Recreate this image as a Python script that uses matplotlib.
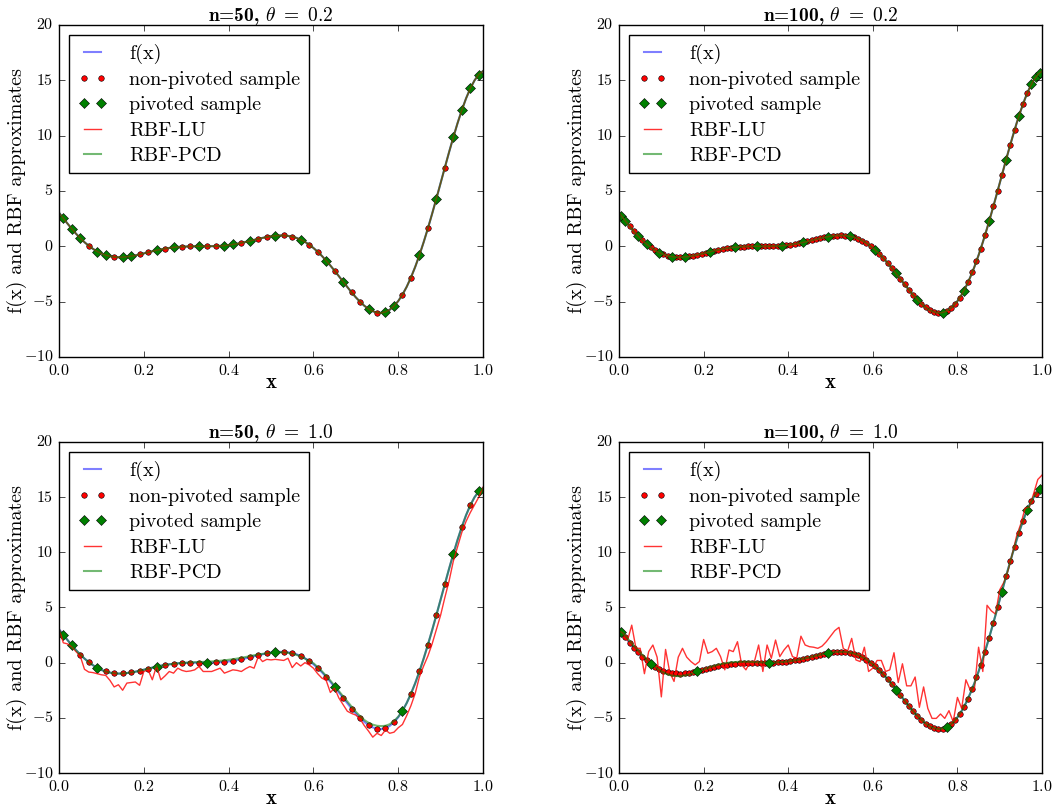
import numpy as np
import matplotlib
matplotlib.use('Agg')
import matplotlib.pyplot as plt

plt.style.use('classic')
plt.rcParams['font.family'] = 'serif'
plt.rcParams['font.serif'] = ['cmr10']
plt.rcParams['mathtext.fontset'] = 'cm'
plt.rcParams['axes.formatter.use_mathtext'] = True
plt.rcParams['figure.facecolor'] = 'white'
plt.rcParams['savefig.facecolor'] = 'white'

# evaluation grid for f(x) and the two RBF curves
X_GRID = [0.00, 0.01, 0.02, 0.03, 0.04, 0.05, 0.06, 0.07, 0.08, 0.09,
          0.10, 0.11, 0.12, 0.13, 0.14, 0.15, 0.16, 0.17, 0.18, 0.19,
          0.20, 0.21, 0.22, 0.23, 0.24, 0.25, 0.26, 0.27, 0.28, 0.29,
          0.30, 0.31, 0.32, 0.33, 0.34, 0.35, 0.36, 0.37, 0.38, 0.39,
          0.40, 0.41, 0.42, 0.43, 0.44, 0.45, 0.46, 0.47, 0.48, 0.49,
          0.50, 0.51, 0.52, 0.53, 0.54, 0.55, 0.56, 0.57, 0.58, 0.59,
          0.60, 0.61, 0.62, 0.63, 0.64, 0.65, 0.66, 0.67, 0.68, 0.69,
          0.70, 0.71, 0.72, 0.73, 0.74, 0.75, 0.76, 0.77, 0.78, 0.79,
          0.80, 0.81, 0.82, 0.83, 0.84, 0.85, 0.86, 0.87, 0.88, 0.89,
          0.90, 0.91, 0.92, 0.93, 0.94, 0.95, 0.96, 0.97, 0.98, 0.99, 1.00]

F_GRID = [3.03, 2.53, 2.05, 1.58, 1.14, 0.74, 0.37, 0.05, -0.23, -0.47,
          -0.66, -0.80, -0.90, -0.96, -0.99, -0.98, -0.94, -0.89, -0.82, -0.73,
          -0.64, -0.55, -0.45, -0.36, -0.28, -0.21, -0.15, -0.10, -0.06, -0.03,
          -0.02, -0.01, 0.00, 0.00, 0.00, 0.00, 0.01, 0.02, 0.04, 0.07,
          0.11, 0.17, 0.23, 0.31, 0.39, 0.48, 0.58, 0.67, 0.76, 0.84,
          0.91, 0.96, 0.98, 0.98, 0.94, 0.87, 0.76, 0.60, 0.40, 0.15,
          -0.15, -0.49, -0.87, -1.29, -1.74, -2.21, -2.70, -3.19, -3.68, -4.16,
          -4.61, -5.01, -5.37, -5.66, -5.87, -5.99, -6.02, -5.93, -5.73, -5.40,
          -4.95, -4.37, -3.66, -2.82, -1.87, -0.80, 0.37, 1.62, 2.94, 4.31,
          5.71, 7.12, 8.51, 9.85, 11.13, 12.30, 13.36, 14.26, 14.99, 15.52, 15.83]

# n=50 samples
X_S50 = [0.01, 0.03, 0.05, 0.07, 0.09, 0.11, 0.13, 0.15, 0.17, 0.19,
         0.21, 0.23, 0.25, 0.27, 0.29, 0.31, 0.33, 0.35, 0.37, 0.39,
         0.41, 0.43, 0.45, 0.47, 0.49, 0.51, 0.53, 0.55, 0.57, 0.59,
         0.61, 0.63, 0.65, 0.67, 0.69, 0.71, 0.73, 0.75, 0.77, 0.79,
         0.81, 0.83, 0.85, 0.87, 0.89, 0.91, 0.93, 0.95, 0.97, 0.99]
Y_S50 = [2.53, 1.58, 0.74, 0.05, -0.47, -0.80, -0.96, -0.98, -0.89, -0.73,
         -0.55, -0.36, -0.21, -0.10, -0.03, -0.01, 0.00, 0.00, 0.02, 0.07,
         0.17, 0.31, 0.48, 0.67, 0.84, 0.96, 0.98, 0.87, 0.60, 0.15,
         -0.49, -1.29, -2.21, -3.19, -4.16, -5.01, -5.66, -5.99, -5.93, -5.40,
         -4.37, -2.82, -0.80, 1.62, 4.31, 7.12, 9.85, 12.30, 14.26, 15.52]

# n=100 samples
X_S100 = [0.005, 0.015, 0.025, 0.035, 0.045, 0.055, 0.065, 0.075, 0.085, 0.095,
          0.105, 0.115, 0.125, 0.135, 0.145, 0.155, 0.165, 0.175, 0.185, 0.195,
          0.205, 0.215, 0.225, 0.235, 0.245, 0.255, 0.265, 0.275, 0.285, 0.295,
          0.305, 0.315, 0.325, 0.335, 0.345, 0.355, 0.365, 0.375, 0.385, 0.395,
          0.405, 0.415, 0.425, 0.435, 0.445, 0.455, 0.465, 0.475, 0.485, 0.495,
          0.505, 0.515, 0.525, 0.535, 0.545, 0.555, 0.565, 0.575, 0.585, 0.595,
          0.605, 0.615, 0.625, 0.635, 0.645, 0.655, 0.665, 0.675, 0.685, 0.695,
          0.705, 0.715, 0.725, 0.735, 0.745, 0.755, 0.765, 0.775, 0.785, 0.795,
          0.805, 0.815, 0.825, 0.835, 0.845, 0.855, 0.865, 0.875, 0.885, 0.895,
          0.905, 0.915, 0.925, 0.935, 0.945, 0.955, 0.965, 0.975, 0.985, 0.995]
Y_S100 = [2.78, 2.29, 1.81, 1.36, 0.94, 0.55, 0.20, -0.10, -0.36, -0.57,
          -0.73, -0.86, -0.94, -0.98, -0.99, -0.96, -0.92, -0.85, -0.78, -0.69,
          -0.59, -0.50, -0.41, -0.32, -0.25, -0.18, -0.12, -0.08, -0.05, -0.02,
          -0.01, 0.00, 0.00, 0.00, 0.00, 0.00, 0.01, 0.03, 0.06, 0.09,
          0.14, 0.20, 0.27, 0.35, 0.44, 0.53, 0.62, 0.72, 0.80, 0.88,
          0.94, 0.97, 0.99, 0.97, 0.91, 0.82, 0.68, 0.50, 0.28, 0.00,
          -0.31, -0.67, -1.07, -1.51, -1.97, -2.45, -2.94, -3.44, -3.92, -4.39,
          -4.82, -5.20, -5.52, -5.78, -5.94, -6.02, -5.99, -5.84, -5.58, -5.19,
          -4.67, -4.03, -3.25, -2.36, -1.34, -0.23, 0.98, 2.27, 3.62, 5.01,
          6.42, 7.82, 9.19, 10.50, 11.73, 12.85, 13.83, 14.65, 15.28, 15.70]

# which samples were picked by the pivoting (indices into the sample lists)
PIV_50_02 = [0, 1, 2, 4, 5, 7, 8, 11, 13, 16, 19, 20, 22, 25, 28, 31, 33, 36, 38, 39,
             42, 44, 46, 47, 48, 49]
PIV_100_02 = [0, 1, 4, 6, 9, 12, 15, 21, 27, 32, 38, 43, 49, 54, 60, 65, 70, 76, 81, 87,
              91, 94, 97, 98, 99]
PIV_50_10 = [0, 1, 4, 11, 17, 25, 32, 40, 46, 49]
PIV_100_10 = [0, 7, 18, 35, 49, 65, 77, 90, 96, 99]

# theta=0.2: both RBF fits lie on f(x)
LU_50_02 = F_GRID
PCD_50_02 = F_GRID
LU_100_02 = F_GRID
PCD_100_02 = F_GRID

# theta=1.0, n=50
LU_50_10 = [3.1, 1.8, 1.7, 1.45, 1.0, 0.6, -0.6, -0.85, -0.9, -1.0,
            -1.1, -1.15, -1.6, -2.2, -2.0, -2.5, -1.85, -1.8, -1.75, -2.05,
            -0.8, -0.65, -1.55, -0.3, -1.55, -1.2, -0.8, -0.95, -0.5, -0.7,
            -0.8, -0.75, -0.65, -0.35, -0.8, -0.8, -0.8, -0.65, -0.5, -0.95,
            -0.8, -0.65, -0.7, -0.8, -0.55, -0.35, -0.5, 0.55, 0.1, 0.3,
            0.25, 0.3, 0.25, 0.2, 0.4, -0.45, 0.0, -0.3, 0.0, -0.2,
            -0.5, -1.0, -1.4, -1.6, -2.7, -2.3, -3.2, -3.8, -4.4, -4.6,
            -4.75, -5.1, -5.7, -6.2, -6.75, -6.4, -6.6, -6.1, -6.4, -6.3,
            -5.9, -5.6, -4.8, -3.9, -2.8, -1.3, -0.3, 0.6, 1.7, 3.0,
            4.3, 5.9, 7.4, 9.2, 10.5, 11.8, 12.8, 13.6, 14.3, 15.0, 15.9]
PCD_50_10 = [2.95, 2.53, 2.05, 1.58, 1.14, 0.74, 0.37, 0.05, -0.23, -0.47,
             -0.66, -0.80, -0.90, -0.96, -0.99, -0.98, -0.94, -0.89, -0.82, -0.73,
             -0.64, -0.55, -0.45, -0.36, -0.28, -0.21, -0.15, -0.10, -0.06, -0.03,
             0.00, 0.02, 0.04, 0.05, 0.07, 0.09, 0.11, 0.14, 0.17, 0.21,
             0.26, 0.31, 0.37, 0.44, 0.51, 0.59, 0.67, 0.74, 0.80, 0.85,
             0.88, 0.92, 0.94, 0.93, 0.89, 0.82, 0.71, 0.56, 0.37, 0.14,
             -0.05, -0.40, -0.78, -1.20, -1.63, -2.10, -2.58, -3.05, -3.52, -3.98,
             -4.45, -4.85, -5.20, -5.45, -5.62, -5.72, -5.75, -5.72, -5.58, -5.30,
             -4.90, -4.37, -3.66, -2.82, -1.87, -0.80, 0.37, 1.62, 2.94, 4.31,
             5.71, 7.12, 8.51, 9.85, 11.13, 12.30, 13.36, 14.26, 14.99, 15.52, 15.80]

# theta=1.0, n=100
LU_100_10 = [2.9, 2.65, 2.0, 3.4, 1.3, 1.3, -1.0, 1.0, 1.6, 0.5,
             -3.1, 1.2, -0.9, -1.7, 0.5, 1.3, 0.5, 0.1, -0.2, 0.1,
             2.1, 0.85, 1.0, 1.3, 0.55, -0.65, 1.15, 1.0, 1.9, -0.2,
             -0.65, 0.1, 0.1, 1.6, -0.8, 1.6, 0.4, 2.05, 0.55, 1.15,
             1.6, 0.55, 0.4, 2.4, 1.6, 1.45, 1.4, 1.3, 1.5, 1.9,
             2.4, 2.9, 3.2, 1.3, 1.0, 2.2, 0.25, 0.1, 1.4, -0.8,
             -0.5, 0.2, 0.2, -0.8, -0.65, 0.9, -1.8, -0.1, -2.1, -2.1,
             -1.3, -4.05, -2.2, -4.15, -5.05, -5.05, -4.65, -5.05, -4.35, -5.35,
             -3.15, -4.15, -1.55, -2.45, -2.45, 1.4, -0.8, 5.2, 4.7, 4.4,
             6.6, 7.3, 8.4, 9.9, 11.5, 12.6, 14.0, 14.1, 15.3, 16.6, 17.0]
PCD_100_10 = [2.95, 2.6, 2.2, 1.75, 1.3, 0.9, 0.5, 0.12, -0.22, -0.52,
              -0.78, -0.98, -1.12, -1.20, -1.22, -1.19, -1.12, -1.02, -0.90, -0.76,
              -0.62, -0.48, -0.35, -0.24, -0.14, -0.06, 0.00, 0.04, 0.07, 0.08,
              0.08, 0.07, 0.05, 0.03, 0.02, 0.01, 0.01, 0.02, 0.04, 0.07,
              0.11, 0.17, 0.23, 0.31, 0.39, 0.48, 0.58, 0.67, 0.76, 0.84,
              0.91, 0.96, 0.98, 0.98, 0.94, 0.87, 0.76, 0.60, 0.40, 0.15,
              -0.15, -0.49, -0.87, -1.29, -1.74, -2.21, -2.70, -3.19, -3.68, -4.16,
              -4.61, -5.01, -5.37, -5.66, -5.87, -5.99, -6.02, -5.93, -5.73, -5.40,
              -4.95, -4.37, -3.66, -2.82, -1.87, -0.80, 0.37, 1.62, 2.94, 4.31,
              5.71, 7.12, 8.51, 9.85, 11.13, 12.30, 13.36, 14.26, 14.99, 15.52, 15.83]

TITLES = ['n=50, $\\theta\\ =\\ 0.2$', 'n=100, $\\theta\\ =\\ 0.2$',
          'n=50, $\\theta\\ =\\ 1.0$', 'n=100, $\\theta\\ =\\ 1.0$']

fig = plt.figure(figsize=(10.62, 8.08), dpi=100)

# axes boxes in figure fraction (left, bottom, width, height)
rects = [[0.0556, 0.5582, 0.3992, 0.4109],
         [0.5829, 0.5582, 0.3983, 0.4109],
         [0.0556, 0.0433, 0.3992, 0.4097],
         [0.5829, 0.0433, 0.3983, 0.4097]]

panels = [(X_S50, Y_S50, PIV_50_02, LU_50_02, PCD_50_02),
          (X_S100, Y_S100, PIV_100_02, LU_100_02, PCD_100_02),
          (X_S50, Y_S50, PIV_50_10, LU_50_10, PCD_50_10),
          (X_S100, Y_S100, PIV_100_10, LU_100_10, PCD_100_10)]

for k in range(4):
    xs, ys, piv, lu, pcd = panels[k]
    ax = fig.add_axes(rects[k])
    ax.plot(X_GRID, F_GRID, color='b', alpha=0.5, lw=1.5, label='f(x)')
    ax.plot(xs, ys, 'o', color='r', ms=4, mec='k', mew=0.4, label='non-pivoted sample')
    ax.plot([xs[i] for i in piv], [ys[i] for i in piv], 'D', color='g', ms=5,
            mec='k', mew=0.4, label='pivoted sample')
    ax.plot(X_GRID, lu, color='r', alpha=0.8, lw=1.0, label='RBF-LU')
    ax.plot(X_GRID, pcd, color='g', alpha=0.55, lw=1.5, label='RBF-PCD')

    ax.set_xlim(0, 1)
    ax.set_ylim(-10, 20)
    ax.set_xticks([0.0, 0.2, 0.4, 0.6, 0.8, 1.0])
    ax.set_yticks([-10, -5, 0, 5, 10, 15, 20])
    ax.tick_params(labelsize=11.5)
    ax.set_title(TITLES[k], fontsize=14, fontfamily='cmb10', pad=3)
    ax.set_xlabel('x', fontsize=15, fontfamily='cmb10', labelpad=-3)
    ax.set_ylabel('f(x) and RBF approximates', fontsize=14.5)
    ax.yaxis.set_label_coords(-0.075, 0.5)
    ax.legend(loc='upper left', numpoints=2, fontsize=14.5, handlelength=1.45,
              handletextpad=1.1, labelspacing=0.36, borderpad=0.42, fancybox=False)

fig.savefig('out.png', dpi=100)
